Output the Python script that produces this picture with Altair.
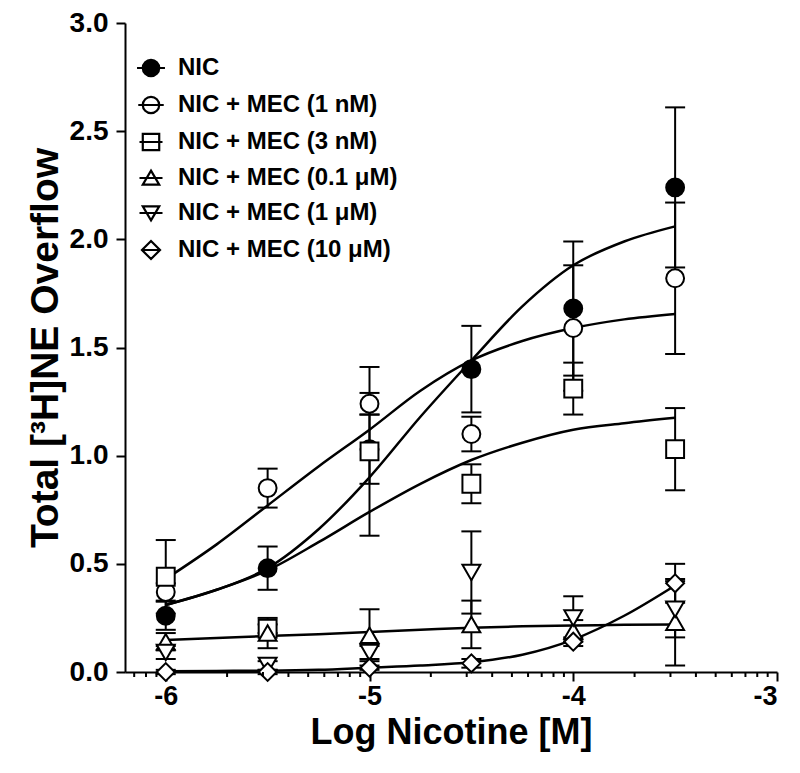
import altair as alt
import pandas as pd
import numpy as np

# ---------------- data ----------------
doses = [-6.0, -5.5, -5.0, -4.5, -4.0, -3.5]
series = ["NIC", "NIC + MEC (1 nM)", "NIC + MEC (3 nM)",
          "NIC + MEC (0.1 \u03bcM)", "NIC + MEC (1 \u03bcM)", "NIC + MEC (10 \u03bcM)"]

nic_mean = [0.26, 0.48, 1.03, 1.40, 1.68, 2.24]
nic_err = [0.065, 0.10, 0.16, 0.20, 0.31, 0.37]
mec1n_mean = [0.37, 0.85, 1.24, 1.10, 1.59, 1.82]
mec1n_err = [0.04, 0.09, 0.05, 0.08, 0.29, 0.35]
mec3n_mean = [0.44, 0.20, 1.02, 0.87, 1.31, 1.03]
mec3n_err = [0.17, 0.02, 0.39, 0.09, 0.12, 0.19]
mec01u_mean = [0.14, 0.18, 0.17, 0.22, 0.19, 0.23]
mec01u_err = [0.04, 0.07, 0.12, 0.11, 0.05, 0.20]
mec1u_mean = [0.09, 0.03, 0.09, 0.46, 0.25, 0.29]
mec1u_err = [0.03, 0.02, 0.03, 0.19, 0.10, 0.13]
mec10u_mean = [0.00, 0.00, 0.02, 0.04, 0.14, 0.41]
mec10u_err = [0.01, 0.01, 0.01, 0.02, 0.02, 0.09]

# fitted curves
curve_x = [-6.0, -5.75, -5.5, -5.25, -5.0, -4.75, -4.5, -4.25, -4.0, -3.75, -3.5]
nic_fit = [0.31, 0.38, 0.48, 0.66, 0.90, 1.18, 1.44, 1.69, 1.88, 1.99, 2.06]
mec1n_fit = [0.43, 0.59, 0.77, 0.95, 1.12, 1.30, 1.44, 1.53, 1.59, 1.63, 1.655]
mec3n_fit = [0.31, 0.38, 0.47, 0.60, 0.74, 0.87, 0.98, 1.06, 1.12, 1.15, 1.175]
mec01u_fit = [0.148, 0.157, 0.166, 0.175, 0.185, 0.195, 0.205, 0.211, 0.215, 0.218, 0.22]
mec10u_fit = [0.004, 0.005, 0.006, 0.01, 0.02, 0.03, 0.045, 0.08, 0.15, 0.26, 0.40]

x_tick_values = [-6, -5, -4, -3]
y_tick_values = [0.0, 0.5, 1.0, 1.5, 2.0, 2.5, 3.0]

# ---------------- tables ----------------
means = [nic_mean, mec1n_mean, mec3n_mean, mec01u_mean, mec1u_mean, mec10u_mean]
errs = [nic_err, mec1n_err, mec3n_err, mec01u_err, mec1u_err, mec10u_err]
rows = []
for s, m, e in zip(series, means, errs):
    for d, mv, ev in zip(doses, m, e):
        rows.append({"series": s, "dose": d, "mean": mv, "lo": mv - ev, "hi": mv + ev})
pts = pd.DataFrame(rows)

fits = {series[0]: nic_fit, series[1]: mec1n_fit, series[2]: mec3n_fit,
        series[3]: mec01u_fit, series[5]: mec10u_fit}
crows = []
for s, ys in fits.items():
    for xv, yv in zip(curve_x, ys):
        crows.append({"series": s, "x": xv, "y": yv})
curves_df = pd.DataFrame(crows)

minor = [d + np.log10(k) for d in range(-7, -3) for k in range(2, 10)]
minor_df = pd.DataFrame({"v": [v for v in minor if -6.2 <= v <= -3.0]})
legend_df = pd.DataFrame({"series": series})

# ---------------- styling ----------------
W, H = 652, 649
FONT = "Liberation Sans"
xscale = alt.Scale(domain=[-6.2, -3.0], nice=False, zero=False)
yscale = alt.Scale(domain=[0, 3.0], nice=False)

shapes = ["circle", "circle", "square", "triangle-up", "triangle-down", "diamond"]
fills = ["black", "white", "white", "white", "white", "white"]
sizes = [320, 320, 360, 400, 400, 500]
legend_paths = [
    "M-1,0A1,1,0,1,0,1,0A1,1,0,1,0,-1,0Z M-1.7,0L1.7,0",
    "M-1,0A1,1,0,1,0,1,0A1,1,0,1,0,-1,0Z M-1.55,0L1.55,0",
    "M-1,-1L1,-1L1,1L-1,1Z M-1.4,0L1.4,0",
    "M0,-0.9L1,0.8L-1,0.8Z M-1.4,0L1.4,0",
    "M0,0.9L1,-0.8L-1,-0.8Z M-1.4,0L1.4,0",
    "M-1.1,0L0,-1.1L1.1,0L0,1.1Z M-1.1,0L1.1,0",
]

X = lambda f: alt.X(f, scale=xscale,
                    axis=alt.Axis(values=x_tick_values, labelExpr="'-' + abs(datum.value)",
                                  title="Log Nicotine [M]"))
Y = lambda f: alt.Y(f, scale=yscale,
                    axis=alt.Axis(values=y_tick_values, format=".1f",
                                  title="Total [\u00b3H]NE Overflow"))

curves = alt.Chart(curves_df).mark_line(color="black", strokeWidth=2.5,
                                        interpolate="monotone").encode(
    x=X("x:Q"), y=Y("y:Q"), detail="series:N")

bars = alt.Chart(pts).mark_rule(color="black", strokeWidth=2).encode(
    x=X("dose:Q"), y=Y("lo:Q"), y2="hi:Q")
cap_hi = alt.Chart(pts).mark_tick(color="black", orient="horizontal", size=20,
                                  thickness=2, opacity=1).encode(x=X("dose:Q"), y=Y("hi:Q"))
cap_lo = alt.Chart(pts).mark_tick(color="black", orient="horizontal", size=20,
                                  thickness=2, opacity=1).encode(x=X("dose:Q"), y=Y("lo:Q"))

points = alt.Chart(pts).mark_point(color="black", strokeWidth=2, opacity=1).encode(
    x=X("dose:Q"), y=Y("mean:Q"),
    shape=alt.Shape("series:N", scale=alt.Scale(domain=series, range=shapes), legend=None),
    fill=alt.Fill("series:N", scale=alt.Scale(domain=series, range=fills), legend=None),
    size=alt.Size("series:O", sort=series,
                  scale=alt.Scale(domain=series, range=sizes), legend=None),
)

leg = alt.Legend(orient="none", legendX=14, legendY=33, title=None, padding=0,
                 labelFont=FONT, labelFontSize=24, labelFontWeight="bold",
                 labelColor="black", symbolStrokeWidth=2.2, symbolStrokeColor="black",
                 symbolSize=270, rowPadding=11, labelOffset=15, labelLimit=400)
legend_layer = alt.Chart(legend_df).mark_point(color="black", strokeWidth=2.2, opacity=1,
                                               size=270).encode(
    x=alt.value(-400), y=alt.value(-400),
    shape=alt.Shape("series:N", scale=alt.Scale(domain=series, range=legend_paths), legend=leg),
    fill=alt.Fill("series:N", scale=alt.Scale(domain=series, range=fills), legend=leg),
    stroke=alt.Stroke("series:N", scale=alt.Scale(domain=series, range=["black"] * 6), legend=leg),
)

minor_ticks = alt.Chart(minor_df).mark_rule(color="black", strokeWidth=2).encode(
    x=alt.X("v:Q", scale=xscale), y=alt.value(H), y2=alt.value(H + 5))

chart = alt.layer(curves, bars, cap_hi, cap_lo, points, legend_layer, minor_ticks).resolve_scale(
    shape="independent", fill="independent", stroke="independent"
).properties(
    width=W, height=H,
    padding={"left": 117, "top": 15, "right": 15, "bottom": 93},
    autosize=alt.AutoSizeParams(type="none"),
).configure_view(stroke=None).configure_axis(
    domainColor="black", domainWidth=2, tickColor="black", tickWidth=2, tickSize=9,
    labelFont=FONT, labelFontWeight="bold", labelColor="black",
    titleFont=FONT, titleFontWeight="bold", titleColor="black",
    grid=False,
).configure_axisX(titlePadding=6, labelFontSize=27, labelPadding=2, titleFontSize=36
).configure_axisY(titlePadding=4, labelPadding=8, labelFontSize=28, titleFontSize=39)

chart.save("out.html", embed_options={"renderer": "svg", "actions": False})
